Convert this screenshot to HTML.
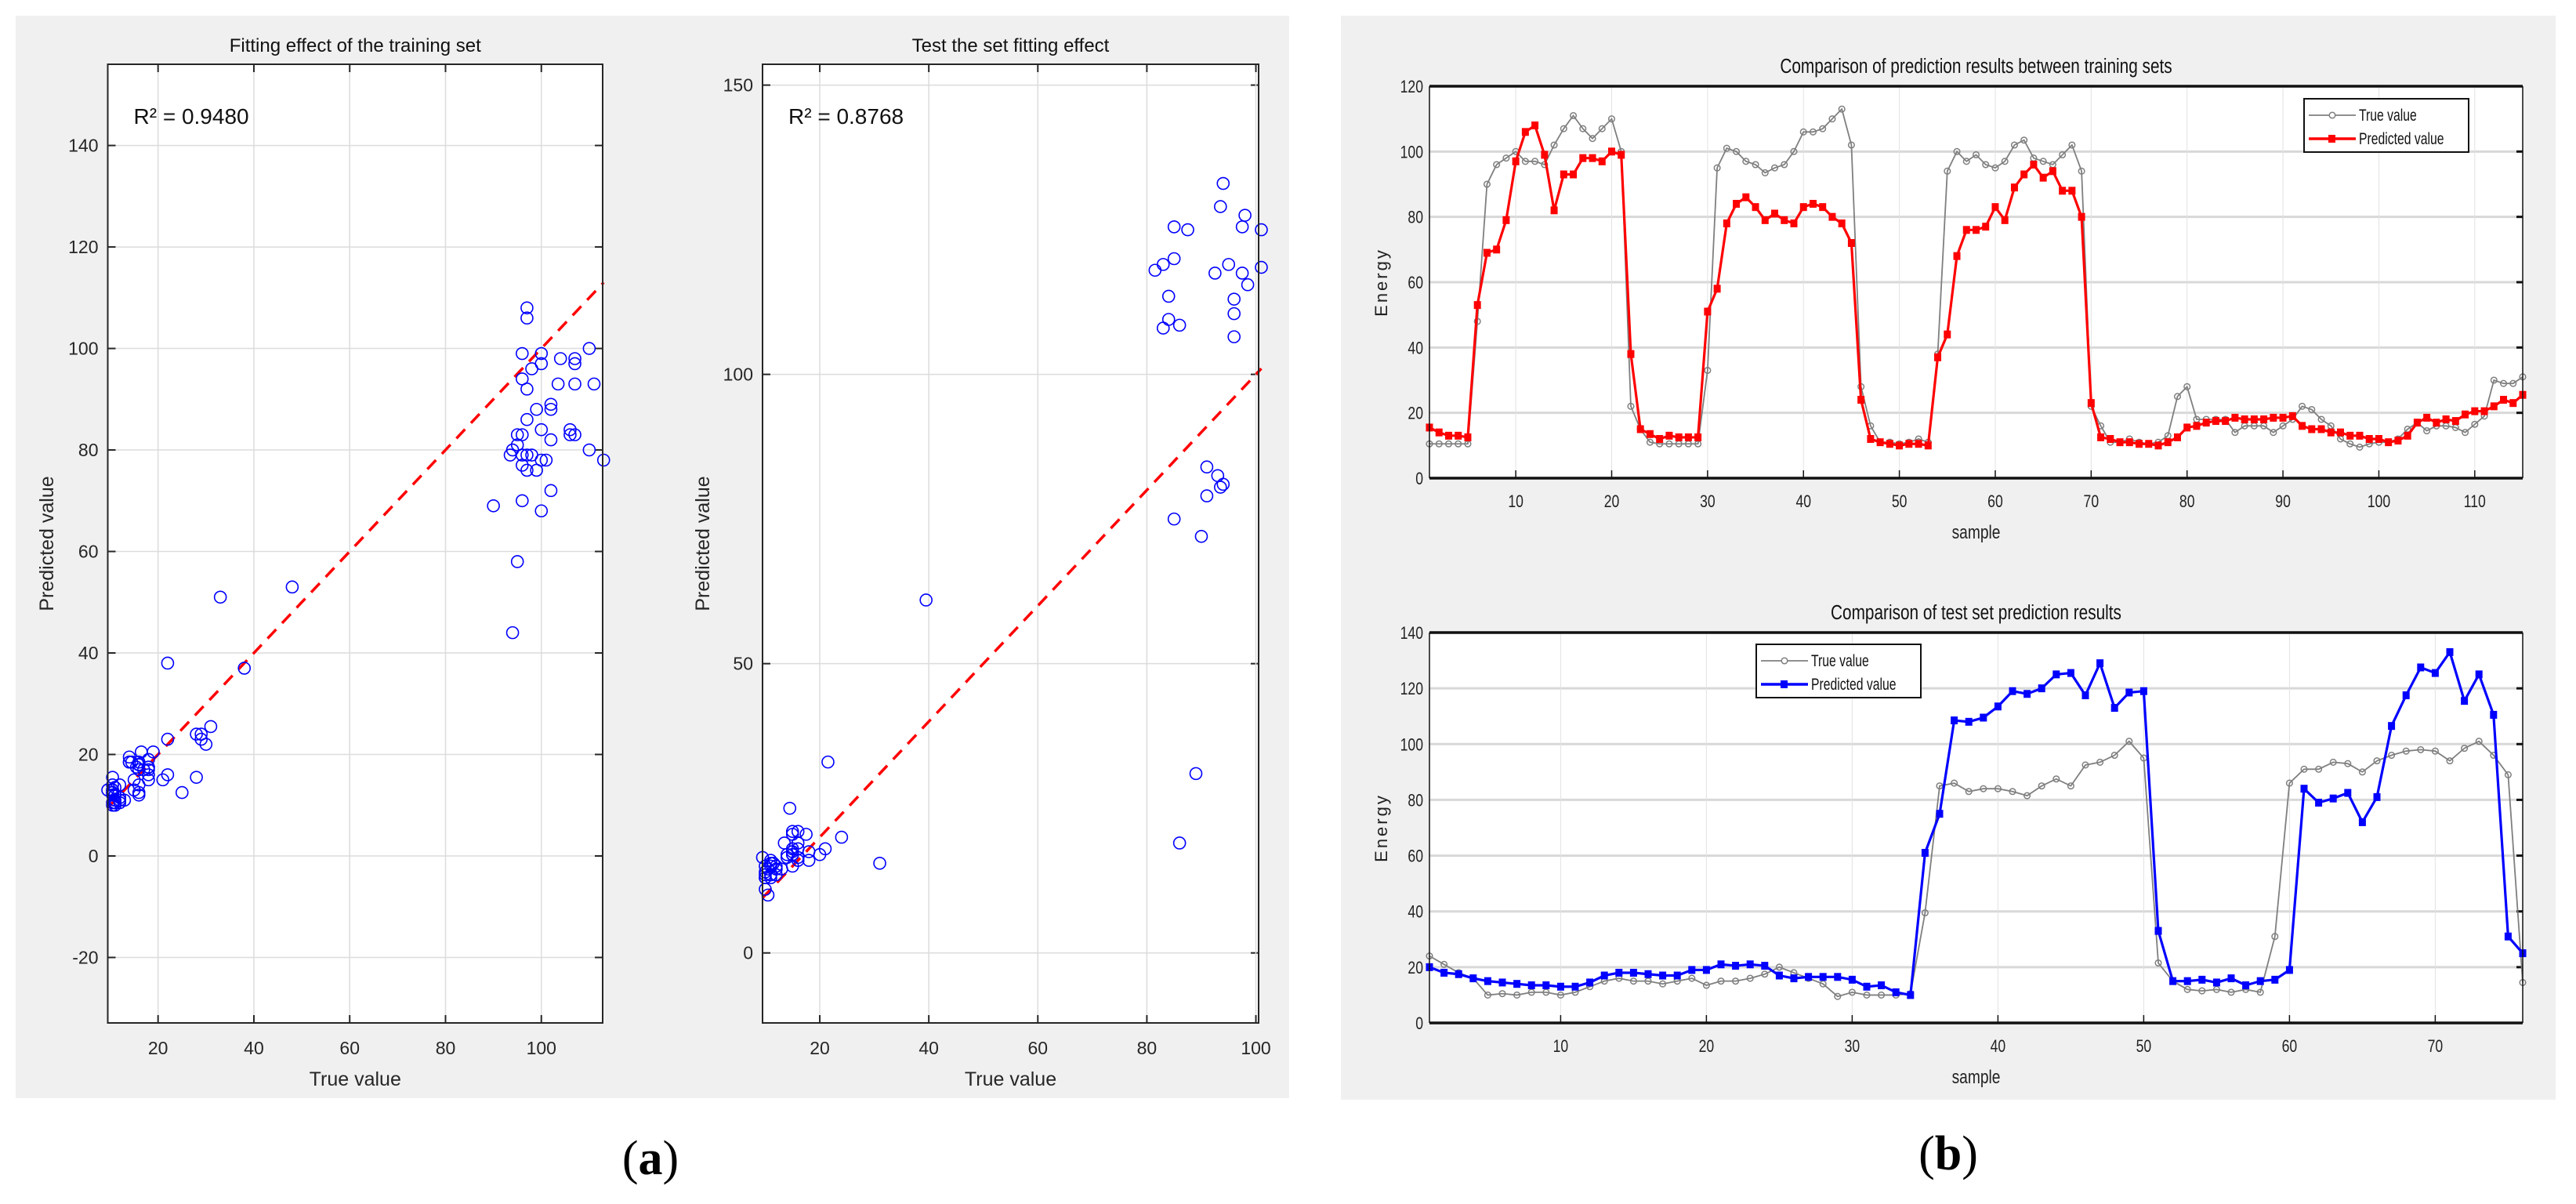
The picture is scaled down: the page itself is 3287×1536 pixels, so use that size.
<!DOCTYPE html>
<html><head><meta charset="utf-8"><style>
html,body{margin:0;padding:0;background:#fff;}
svg{display:block;}
text{font-family:"Liberation Sans",sans-serif;}
</style></head><body>
<svg id="fig" width="3287" height="1536" viewBox="0 0 3287 1536" xmlns="http://www.w3.org/2000/svg">
<rect x="20" y="20" width="1625" height="1381" fill="#f0f0f0"/>
<rect x="1711" y="20" width="1550" height="1383" fill="#f0f0f0"/>
<text x="830" y="1498" text-anchor="middle" style="font-family:'Liberation Serif',serif;font-size:62px;"><tspan>(</tspan><tspan font-weight="bold">a</tspan><tspan>)</tspan></text>
<text x="2486" y="1492" text-anchor="middle" style="font-family:'Liberation Serif',serif;font-size:62px;"><tspan>(</tspan><tspan font-weight="bold">b</tspan><tspan>)</tspan></text>
<g id="layer"></g>
</svg>
<script>
// Training set (115 samples)
const trainTrue = [10.5,10.5,10.5,10.5,10.5,48,90,96,98,100,97,97,96,102,107,111,107,104,107,110,100,22,15,11,10.5,10.5,10.5,10.5,10.5,33,95,101,100,97,96,93.5,95,96,100,106,106,107,110,113,102,28,16,11,11,10.5,11,12,11,38,94,100,97,99,96,95,97,102,103.5,98,97,96,99,102,94,22,16,11,11,12,11,10.5,11,13,25,28,18,18,18,18,14,16,16,16,14,16,18,22,21,18,16,12,10.5,9.5,10.5,11,11,12,15,17,14.5,16,16,15.5,14,16.5,19,30,29,29,31];
const trainPred = [15.5,14,13,13,12.5,53,69,70,79,97,106,108,99,82,93,93,98,98,97,100,99,38,15,13.5,12,13,12.5,12.5,12.5,51,58,78,84,86,83,79,81,79,78,83,84,83,80,78,72,24,12,11,10.5,10,10.5,10.5,10,37,44,68,76,76,77,83,79,89,93,96,92,94,88,88,80,23,12.5,12,11,11,10.5,10.5,10,11,12.5,15.5,16,17,17.5,17.5,18.5,18,18,18,18.5,18.5,19,16,15,15,14,14,13,13,12,12,11,11.5,13,17,18.5,17,18,17.5,19.5,20.5,20.5,22,24,23,25.5];
// Test set (76 samples)
const testTrue = [24,21,18,16,10,10.5,10,11,11,10,11,13,15,16,15,15,14,15,16,13.5,15,15,16,17.5,20,18,16,14,9.5,11,10,10,10,10.5,39.5,85,86,83,84,84,83,81.5,85,87.5,85,92.5,93.5,96,101,95,21.5,15,12,11.5,12,11,12,11,31,86,91,91,93.5,93,90,94,96,97.5,98,97.5,94,98.5,101,96,89,14.5];
const testPred = [20,18,17.5,16,15,14.5,14,13.5,13.5,13,13,14.5,17,18,18,17.5,17,17,19,19,21,20.5,21,20.5,17,16,16.5,16.5,16.5,15.5,13,13.5,11,10,61,75,108.5,108,109.5,113.5,119,118,120,125,125.5,117.5,129,113,118.5,119,33,15,15,15.5,14.5,16,13.5,15,15.5,19,84,79,80.5,82.5,72,81,106.5,117.5,127.5,125.5,133,115.5,125,110.5,31,25];
const scatterLeftYTicks = [-20,0,20,40,60,80,100,120,140];
const scatterLeftXTicks = [20,40,60,80,100];
const scatterRightYTicks = [0,50,100,150];
const scatterRightXTicks = [20,40,60,80,100];
const trainYTicks = [0,20,40,60,80,100,120];
const trainXTicks = [10,20,30,40,50,60,70,80,90,100,110];
const testYTicks = [0,20,40,60,80,100,120,140];
const testXTicks = [10,20,30,40,50,60,70];

const NS="http://www.w3.org/2000/svg";
const layer=document.getElementById('layer');
function el(tag,attrs,parent){const e=document.createElementNS(NS,tag);for(const k in attrs)e.setAttribute(k,attrs[k]);(parent||layer).appendChild(e);return e;}
function txt(s,attrs,parent){const e=el('text',attrs,parent);e.textContent=s;return e;}
function scale(d0,d1,r0,r1){return v=>r0+(v-d0)*(r1-r0)/(d1-d0);}

function scatterPanel(cfg,xs,ys){
  const g=el('g',{});
  
  
  const X=scale(cfg.xd[0],cfg.xd[1],cfg.x0,cfg.x1), Y=scale(cfg.yd[0],cfg.yd[1],cfg.y1,cfg.y0);
  const bg=el('rect',{x:cfg.x0,y:cfg.y0,width:cfg.x1-cfg.x0,height:cfg.y1-cfg.y0,fill:'#fff'},g);
  
  
  cfg.yt.forEach(v=>{const y=Y(v);
    el('line',{x1:cfg.x0,x2:cfg.x1,y1:y,y2:y,stroke:'#dcdcdc','stroke-width':1.5},g);
    el('line',{x1:cfg.x0,x2:cfg.x0+10,y1:y,y2:y,stroke:'#262626','stroke-width':2},g);
    el('line',{x1:cfg.x1-10,x2:cfg.x1,y1:y,y2:y,stroke:'#262626','stroke-width':2},g);
    const t=txt(String(v),{x:cfg.x0-12,y:y+8,'text-anchor':'end','font-size':23,fill:'#262626'},g);
    
    
  });
  cfg.xt.forEach(v=>{const x=X(v);
    el('line',{x1:x,x2:x,y1:cfg.y0,y2:cfg.y1,stroke:'#dcdcdc','stroke-width':1.5},g);
    el('line',{x1:x,x2:x,y1:cfg.y1-10,y2:cfg.y1,stroke:'#262626','stroke-width':2},g);
    el('line',{x1:x,x2:x,y1:cfg.y0,y2:cfg.y0+10,stroke:'#262626','stroke-width':2},g);
    const t=txt(String(v),{x:x,y:cfg.y1+40,'text-anchor':'middle','font-size':23,fill:'#262626'},g);
    
    
  });
  const mn=Math.min(...xs), mx=Math.max(...xs);
  const fit=el('line',{x1:X(mn),y1:Y(mn),x2:X(mx),y2:Y(mx),stroke:'#ff0000','stroke-width':3.5,'stroke-dasharray':'16,11'},g);
  
  
  xs.forEach((v,i)=>{
    const c=el('circle',{cx:X(v),cy:Y(ys[i]),r:7.5,fill:'none',stroke:'#0000ff','stroke-width':1.6},g);
    
    
  });
  const box=el('rect',{x:cfg.x0,y:cfg.y0,width:cfg.x1-cfg.x0,height:cfg.y1-cfg.y0,fill:'none',stroke:'#262626','stroke-width':2},g);
  
  
  const ti=txt(cfg.title,{x:(cfg.x0+cfg.x1)/2,y:66,'text-anchor':'middle','font-size':24,fill:'#111'},g);
  
  
  const r2=txt(cfg.r2,{x:cfg.x0+33,y:158,'font-size':28,fill:'#111'},g);
  
  
  const xl=txt('True value',{x:(cfg.x0+cfg.x1)/2,y:1385,'text-anchor':'middle','font-size':25,fill:'#262626'},g);
  
  
  const yl=txt('Predicted value',{x:0,y:0,'text-anchor':'middle','font-size':25,fill:'#262626',transform:`translate(${cfg.ylx},${(cfg.y0+cfg.y1)/2}) rotate(-90)`},g);
  
  
}

scatterPanel({name:'train-scatter',x0:137.5,x1:769,y0:82,y1:1305,xd:[9.5,112.8],yd:[-32.9,156],yt:scatterLeftYTicks,xt:scatterLeftXTicks,title:'Fitting effect of the training set',r2:'R² = 0.9480',ylx:68},trainTrue,trainPred);
scatterPanel({name:'test-scatter',x0:973,x1:1606,xd:[9.5,100.5],y0:82,y1:1305,yd:[-12.1,153.6],yt:scatterRightYTicks,xt:scatterRightXTicks,title:'Test the set fitting effect',r2:'R² = 0.8768',ylx:905},testTrue,testPred);

function linePanel(cfg,tv,pv){
  const g=el('g',{});
  
  
  const X=scale(cfg.xd[0],cfg.xd[1],cfg.x0,cfg.x1), Y=scale(cfg.yd[0],cfg.yd[1],cfg.y1,cfg.y0);
  const bg=el('rect',{x:cfg.x0,y:cfg.y0,width:cfg.x1-cfg.x0,height:cfg.y1-cfg.y0,fill:'#fff'},g);
  
  
  cfg.yt.forEach(v=>{const y=Y(v);
    el('line',{x1:cfg.x0,x2:cfg.x1,y1:y,y2:y,stroke:'#d8d8d8','stroke-width':3},g);
    el('line',{x1:cfg.x1-8,x2:cfg.x1,y1:y,y2:y,stroke:'#111','stroke-width':3},g);
    const t=txt(String(v),{x:0,y:0,'text-anchor':'end','font-size':22,fill:'#222',transform:`translate(${cfg.x0-8},${y+8}) scale(0.8,1)`},g);
    
    
  });
  cfg.xt.forEach(v=>{const x=X(v);
    el('line',{x1:x,x2:x,y1:cfg.y0,y2:cfg.y1,stroke:'#e2e2e2','stroke-width':1},g);
    el('line',{x1:x,x2:x,y1:cfg.y1-10,y2:cfg.y1,stroke:'#111','stroke-width':1.5},g);
    const t=txt(String(v),{x:0,y:0,'text-anchor':'middle','font-size':22,fill:'#222',transform:`translate(${x},${cfg.y1+37}) scale(0.8,1)`},g);
    
    
  });
  const idx=tv.map((_,i)=>i+1);
  const tl=el('polyline',{points:tv.map((v,i)=>X(idx[i])+','+Y(v)).join(' '),fill:'none',stroke:'#7f7f7f','stroke-width':1.8},g);
  
  
  tv.forEach((v,i)=>{const c=el('circle',{cx:X(idx[i]),cy:Y(v),r:3.8,fill:'none',stroke:'#7f7f7f','stroke-width':1.5},g);
    
    });
  const pl=el('polyline',{points:pv.map((v,i)=>X(idx[i])+','+Y(v)).join(' '),fill:'none',stroke:cfg.color,'stroke-width':3.2},g);
  
  
  pv.forEach((v,i)=>{const r=el('rect',{x:X(idx[i])-4.5,y:Y(v)-5,width:9,height:10,fill:cfg.color},g);
    
    });
  el('line',{x1:cfg.x0,x2:cfg.x1,y1:cfg.y0,y2:cfg.y0,stroke:'#111','stroke-width':3.5},g);
  el('line',{x1:cfg.x0,x2:cfg.x1,y1:cfg.y1,y2:cfg.y1,stroke:'#111','stroke-width':3.5},g);
  el('line',{x1:cfg.x0,x2:cfg.x0,y1:cfg.y0,y2:cfg.y1,stroke:'#111','stroke-width':1.5},g);
  el('line',{x1:cfg.x1,x2:cfg.x1,y1:cfg.y0,y2:cfg.y1,stroke:'#111','stroke-width':1.5},g);
  const ti=txt(cfg.title,{x:0,y:0,'text-anchor':'middle','font-size':26,fill:'#111',transform:`translate(${(cfg.x0+cfg.x1)/2},${cfg.y0-17}) scale(0.8,1)`},g);
  
  
  const xl=txt('sample',{x:0,y:0,'text-anchor':'middle','font-size':24,fill:'#222',transform:`translate(${(cfg.x0+cfg.x1)/2},${cfg.y1+77}) scale(0.8,1)`},g);
  
  
  const yl=txt('Energy',{x:0,y:0,'text-anchor':'middle','font-size':22,'letter-spacing':3,fill:'#222',transform:`translate(1770,${(cfg.y0+cfg.y1)/2}) rotate(-90)`},g);
  
  
  const lg=el('g',{},g);
  
  
  const L=cfg.leg;
  el('rect',{x:L[0],y:L[1],width:210,height:68,fill:'#fff',stroke:'#111','stroke-width':2},lg);
  el('line',{x1:L[0]+6,x2:L[0]+66,y1:L[1]+21,y2:L[1]+21,stroke:'#7f7f7f','stroke-width':1.8},lg);
  el('circle',{cx:L[0]+36,cy:L[1]+21,r:3.8,fill:'#fff',stroke:'#7f7f7f','stroke-width':1.5},lg);
  const a=txt('True value',{x:0,y:0,'font-size':21,fill:'#111',transform:`translate(${L[0]+70},${L[1]+28}) scale(0.75,1)`},lg);
  
  
  el('line',{x1:L[0]+6,x2:L[0]+66,y1:L[1]+51,y2:L[1]+51,stroke:cfg.color,'stroke-width':3.5},lg);
  el('rect',{x:L[0]+31,y:L[1]+46,width:9,height:10,fill:cfg.color},lg);
  const b=txt('Predicted value',{x:0,y:0,'font-size':21,fill:'#111',transform:`translate(${L[0]+70},${L[1]+58}) scale(0.75,1)`},lg);
  
  
}

linePanel({name:'train-comparison-chart',x0:1824,x1:3219,y0:110,y1:610,xd:[1,115],yd:[0,120],yt:trainYTicks,xt:trainXTicks,color:'#ff0000',title:'Comparison of prediction results between training sets',leg:[2940,126]},trainTrue,trainPred);
linePanel({name:'test-comparison-chart',x0:1824,x1:3219,y0:807,y1:1305,xd:[1,76],yd:[0,140],yt:testYTicks,xt:testXTicks,color:'#0000ff',title:'Comparison of test set prediction results',leg:[2241,822]},testTrue,testPred);
</script>
</body></html>
